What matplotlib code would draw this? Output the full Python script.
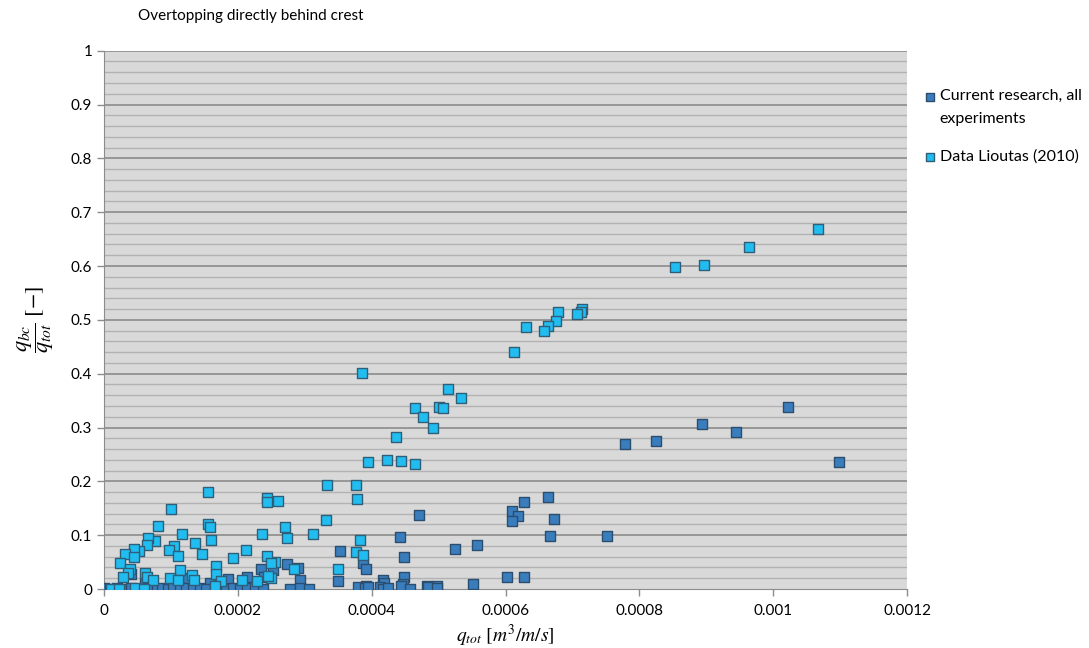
import matplotlib.pyplot as plt
from matplotlib.legend_handler import HandlerPathCollection
import numpy as np

# Current research, all experiments: q_tot [m3/m/s] and q_bc/q_tot [-]
current_q = [0.001022, 0.000894, 0.000945, 0.001098, 0.000778, 0.000825,
             0.000663, 0.000627, 0.000610, 0.000618, 0.000610, 0.000672,
             0.000667, 0.000751, 0.000558, 0.000551, 0.000602, 0.000627,
             0.000471, 0.000443, 0.000524, 0.000353, 0.000449, 0.000273,
             0.000290, 0.000387, 0.000392, 0.000252, 0.000293, 0.000349,
             0.000448, 0.000417, 0.000419, 0.000392, 0.000447, 0.000483,
             0.000497, 0.000380,
             0.000234, 0.000239, 0.000214, 0.000186, 0.000125, 0.000040,
             0.000062, 0.000159,
             0.000000, 0.000009, 0.000019, 0.000031, 0.000041, 0.000054,
             0.000066, 0.000079, 0.000086, 0.000096, 0.000103, 0.000113,
             0.000123, 0.000133, 0.000143, 0.000153, 0.000166, 0.000176,
             0.000183, 0.000193, 0.000203, 0.000213, 0.000225, 0.000238,
             0.000278, 0.000293, 0.000307, 0.000390, 0.000394, 0.000412,
             0.000417, 0.000424, 0.000444, 0.000457, 0.000484, 0.000497]
current_ratio = [0.338, 0.307, 0.292, 0.236, 0.269, 0.275,
                 0.171, 0.162, 0.145, 0.136, 0.126, 0.130,
                 0.098, 0.099, 0.082, 0.009, 0.022, 0.023,
                 0.137, 0.097, 0.074, 0.071, 0.060, 0.047,
                 0.039, 0.049, 0.037, 0.035, 0.017, 0.015,
                 0.022, 0.017, 0.011, 0.006, 0.009, 0.006,
                 0.005, 0.004,
                 0.037, 0.023, 0.022, 0.018, 0.020, 0.028,
                 0.012, 0.012,
                 0.001, 0.000, 0.001, 0.000, 0.002, 0.000,
                 0.001, 0.000, 0.002, 0.000, 0.001, 0.000,
                 0.002, 0.000, 0.001, 0.000, 0.002, 0.001,
                 0.000, 0.002, 0.000, 0.001, 0.003, 0.000,
                 0.000, 0.002, 0.000, 0.001, 0.004, 0.003,
                 0.000, 0.002, 0.005, 0.000, 0.003, 0.002]

# Data Lioutas (2010)
lioutas_q = [0.001067, 0.000964, 0.000853, 0.000897, 0.000714, 0.000713,
             0.000707, 0.000678, 0.000676, 0.000664, 0.000657, 0.000630,
             0.000613, 0.000386, 0.000514, 0.000533, 0.000465, 0.000500,
             0.000506, 0.000476, 0.000492, 0.000437, 0.000394, 0.000423,
             0.000444, 0.000464,
             0.000333, 0.000376, 0.000378, 0.000260, 0.000243, 0.000244,
             0.000331, 0.000271, 0.000274, 0.000312, 0.000382, 0.000377,
             0.000387, 0.000255, 0.000284, 0.000350, 0.000250, 0.000236,
             0.000244, 0.000249, 0.000245,
             0.000155, 0.000100, 0.000080, 0.000156, 0.000158, 0.000116,
             0.000076, 0.000066, 0.000065, 0.000136, 0.000160, 0.000105,
             0.000097, 0.000146, 0.000111, 0.000053, 0.000045, 0.000032,
             0.000045, 0.000024, 0.000039, 0.000036, 0.000029, 0.000062,
             0.000064, 0.000073, 0.000113, 0.000099, 0.000111, 0.000131,
             0.000135, 0.000168, 0.000167, 0.000175, 0.000193, 0.000212,
             0.000206, 0.000166, 0.000229, 0.000010, 0.000022, 0.000046,
             0.000060]
lioutas_ratio = [0.668, 0.636, 0.599, 0.601, 0.520, 0.514,
                 0.510, 0.515, 0.498, 0.489, 0.479, 0.486,
                 0.440, 0.401, 0.371, 0.355, 0.336, 0.339,
                 0.337, 0.319, 0.299, 0.282, 0.236, 0.239,
                 0.238, 0.232,
                 0.193, 0.194, 0.167, 0.163, 0.170, 0.161,
                 0.129, 0.116, 0.095, 0.103, 0.092, 0.069,
                 0.064, 0.050, 0.037, 0.038, 0.021, 0.103,
                 0.061, 0.049, 0.024,
                 0.181, 0.149, 0.118, 0.121, 0.116, 0.102,
                 0.090, 0.094, 0.082, 0.086, 0.092, 0.080,
                 0.072, 0.066, 0.062, 0.071, 0.074, 0.066,
                 0.060, 0.048, 0.038, 0.029, 0.022, 0.029,
                 0.023, 0.017, 0.035, 0.020, 0.017, 0.026,
                 0.017, 0.043, 0.028, 0.015, 0.057, 0.072,
                 0.017, 0.006, 0.014, 0.000, 0.000, 0.001,
                 0.000]

x_ticks = [0, 0.0002, 0.0004, 0.0006, 0.0008, 0.001, 0.0012]
x_tick_labels = ['0', '0.0002', '0.0004', '0.0006', '0.0008', '0.001', '0.0012']
y_ticks = np.arange(0, 1.01, 0.1)
y_tick_labels = ['0', '0.1', '0.2', '0.3', '0.4', '0.5', '0.6', '0.7', '0.8', '0.9', '1']

plt.rcParams['font.family'] = ['Lato', 'DejaVu Sans']
plt.rcParams['mathtext.fontset'] = 'stix'

fig = plt.figure(figsize=(10.89, 6.48), dpi=100)
ax = fig.add_axes([0.0955, 0.091, 0.7374, 0.8308])
ax.set_facecolor('#d9d9d9')

# minor gridlines every 0.02, majors every 0.1
for yv in np.arange(0.02, 1.0, 0.02):
    if abs(yv * 10 - round(yv * 10)) > 1e-6:
        ax.axhline(yv, color='#b2b2b2', lw=1.0, zorder=1)
for yv in y_ticks[1:]:
    ax.axhline(yv, color='#8c8c8c', lw=1.2, zorder=1)

sc_current = ax.scatter(current_q, current_ratio, marker='s', s=60, color='#3a7dbd',
                        edgecolors='#2b4d6e', linewidths=1.0, zorder=3,
                        label='Current research, all\nexperiments')
sc_lioutas = ax.scatter(lioutas_q, lioutas_ratio, marker='s', s=60, color='#22bdf0',
                        edgecolors='#2f5e78', linewidths=1.0, zorder=4,
                        label='Data Lioutas (2010)')

ax.set_xlim(0, 0.0012)
ax.set_ylim(0, 1)
ax.set_xticks(x_ticks)
ax.set_xticklabels(x_tick_labels)
ax.set_yticks(y_ticks)
ax.set_yticklabels(y_tick_labels)
ax.tick_params(axis='both', colors='#8c8c8c', labelcolor='black', labelsize=11,
               length=5, width=1)
ax.tick_params(axis='x', pad=6)
for side in ['top', 'right']:
    ax.spines[side].set_visible(False)
for side in ['left', 'bottom']:
    ax.spines[side].set_color('#8c8c8c')

ax.set_xlabel(r'$q_{tot}\ [m^3/m/s]$', fontsize=14, labelpad=3)
ax.set_ylabel(r'$\dfrac{q_{bc}}{q_{tot}}\ [-]$', fontsize=16, labelpad=6)
ax.yaxis.set_label_coords(-0.06, 0.5)

fig.text(0.1267, 0.975, 'Overtopping directly behind crest', fontsize=11,
         va='center', ha='left')

# keep the two-line entry's marker next to its first line
leg = ax.legend(loc='upper left', bbox_to_anchor=(1.012, 0.941), frameon=False,
                fontsize=11.5, handletextpad=0.15, labelspacing=1.5,
                handlelength=0.9, markerscale=0.7, borderaxespad=0,
                handler_map={sc_current: HandlerPathCollection(yoffsets=[1.45])})
for t in leg.get_texts():
    t.set_linespacing(1.8)

fig.savefig('out.png', dpi=100)
